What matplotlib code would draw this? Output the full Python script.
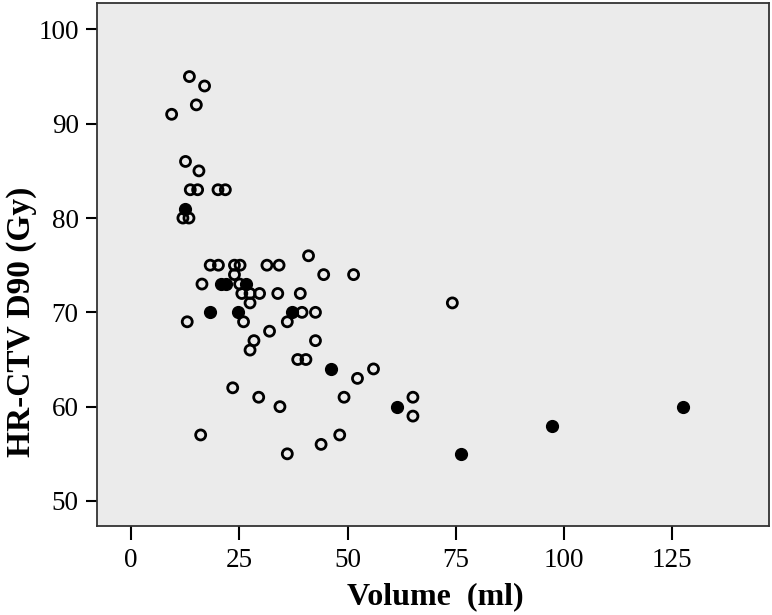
import matplotlib.pyplot as plt

# HR-CTV volume (ml) vs D90 (Gy)
open_vol = [9.4, 13.5, 17.0, 15.1, 12.6, 15.7, 13.7, 15.4, 20.1, 21.8, 12.0, 13.4,
            18.3, 20.2, 23.9, 25.2, 31.4, 34.2, 41.0, 23.9, 44.5, 51.4, 16.4, 25.1,
            25.6, 27.5, 29.7, 33.9, 39.1, 27.5, 74.2, 39.5, 42.6, 13.0, 26.0, 36.1,
            32.0, 42.6, 28.4, 27.5, 38.5, 40.4, 56.0, 52.3, 23.5, 29.5, 49.2, 65.1,
            34.4, 65.1, 16.1, 48.2, 43.9, 36.1]
open_d90 = [91, 95, 94, 92, 86, 85, 83, 83, 83, 83, 80, 80,
            75, 75, 75, 75, 75, 75, 76, 74, 74, 74, 73, 73,
            72, 72, 72, 72, 72, 71, 71, 70, 70, 69, 69, 69,
            68, 67, 67, 66, 65, 65, 64, 63, 62, 61, 61, 61,
            60, 59, 57, 57, 56, 55]

filled_vol = [12.4, 20.8, 22.0, 26.6, 18.2, 24.8, 37.2, 46.1, 61.5, 97.2, 76.3, 127.5]
filled_d90 = [81, 73, 73, 73, 70, 70, 70, 64, 60, 58, 55, 60]

x_ticks = [0, 25, 50, 75, 100, 125]
y_ticks = [50, 60, 70, 80, 90, 100]

plt.rcParams['font.family'] = ['Liberation Serif', 'DejaVu Serif']

fig = plt.figure(figsize=(7.72, 6.15), dpi=100)
ax = fig.add_axes([96.7 / 772, 1 - 525.5 / 615, (769 - 96.7) / 772, (525.5 - 3) / 615])
ax.set_facecolor('#ebebeb')

ax.scatter(open_vol, open_d90, s=52, facecolors='none', edgecolors='black', linewidths=2.0, zorder=3)
ax.scatter(filled_vol, filled_d90, s=72, facecolors='black', edgecolors='black', linewidths=1.0, zorder=4)

ax.set_xlim(-7.9, 147.3)
ax.set_ylim(47.4, 102.8)
ax.set_xticks(x_ticks)
ax.set_yticks(y_ticks)
ax.tick_params(axis='x', length=10, width=1.5, labelsize=19.5, pad=6)
ax.tick_params(axis='y', length=8, width=1.5, labelsize=19.5, pad=5)
for s in ax.spines.values():
    s.set_color('#333333')
    s.set_linewidth(1.3)

ax.set_xlabel('Volume  (ml)', fontsize=23, fontweight='bold')
ax.set_ylabel('HR-CTV D90 (Gy)', fontsize=24, fontweight='bold')
ax.xaxis.set_label_coords(0.503, -0.108)
ax.yaxis.set_label_coords(-0.089, 0.39)

plt.savefig('out.png', dpi=100)
plt.close(fig)
